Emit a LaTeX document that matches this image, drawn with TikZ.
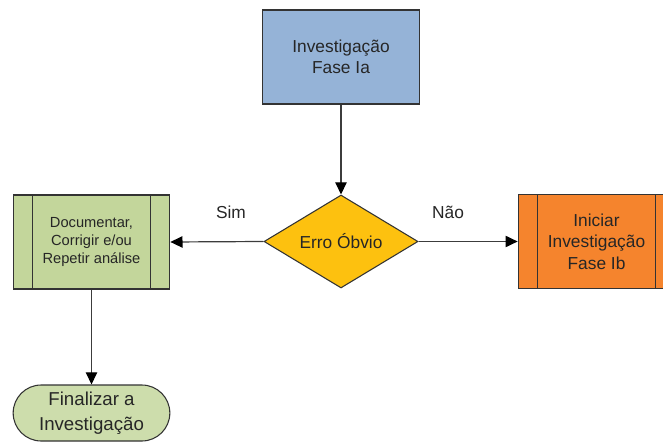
\documentclass[tikz,border=0pt]{standalone}
\usepackage{fontspec}
\setmainfont{Liberation Sans}
\usetikzlibrary{shapes,arrows.meta}
\tikzset{>={Triangle[width=3.0mm,length=3.2mm,color=black]}}

\definecolor{fasea}{HTML}{95B3D7}
\definecolor{docgreen}{HTML}{C3D69B}
\definecolor{endgreen}{HTML}{CDDDAC}
\definecolor{faseb}{HTML}{F5842D}
\definecolor{erro}{HTML}{FDC10F}
\definecolor{lineclr}{HTML}{3C3C3C}

\begin{document}
\begin{tikzpicture}[x=0.75pt,y=-0.75pt]
      \tikzstyle{bnode} = [draw=black!80, line width=0.8pt, rectangle, align=center, inner sep=2pt,
                           minimum width=117.5pt, minimum height=70.5pt, text=black!85]
      \tikzstyle{pnode} = [bnode, path picture={
                             \draw[black!80, line width=0.8pt]
                               ([xshift=14.25pt]path picture bounding box.north west) --
                               ([xshift=14.25pt]path picture bounding box.south west);
                             \draw[black!80, line width=0.8pt]
                               ([xshift=-14.25pt]path picture bounding box.north east) --
                               ([xshift=-14.25pt]path picture bounding box.south east);}]
      \tikzstyle{dnode} = [draw=black!80, line width=0.8pt, diamond, aspect=1.66, inner sep=0pt,
                           minimum width=115.5pt, minimum height=69.75pt, text=black!85]
      \tikzstyle{tnode} = [draw=black!80, line width=0.8pt, rectangle, rounded corners=21pt, align=center,
                           minimum width=117.5pt, minimum height=42pt, text=black!85]
      \tikzstyle{conn} = [draw=lineclr, line width=0.9pt]

      \useasboundingbox (0,0) rectangle (663,445);

      %%%%%%%%%%%%%%%%%%%%%%%%%%%%%%
      %% boxes
      %%%%%%%%%%%%%%%%%%%%%%%%%%%%%%
      \node[bnode, fill=fasea, font=\fontsize{13}{15.5}\selectfont] (fia) at (341,57) {Investigação\\Fase Ia};
      \node[dnode, fill=erro, font=\fontsize{13}{15.5}\selectfont] (erro) at (341,241.5) {Erro Óbvio};
      \node[pnode, fill=docgreen, font=\fontsize{11}{13.5}\selectfont] (doc) at (91.5,242) {Documentar,\\Corrigir e/ou\\Repetir análise};
      \node[pnode, fill=faseb, font=\fontsize{13}{16}\selectfont] (fib) at (596.5,241.5) {Iniciar\\Investigação\\Fase Ib};
      \node[tnode, fill=endgreen, font=\fontsize{14}{18.5}\selectfont] (fim) at (91.5,413) {Finalizar a\\Investigação};

      %%%%%%%%%%%%%%%%%%%%%%%%%%%%%%
      %% labels
      %%%%%%%%%%%%%%%%%%%%%%%%%%%%%%
      \node[font=\fontsize{13}{15}\selectfont, text=black!85] (sim) at (231,212) {Sim};
      \node[font=\fontsize{13}{15}\selectfont, text=black!85] (nao) at (448,212) {Não};

      % edges
      \draw[conn, ->] (fia.south) -- (erro.north);
      \draw[conn, ->] (erro.west) -- (doc.east);
      \draw[conn, ->] (erro.east) -- (fib.west);
      \draw[conn, ->] (doc.south) -- (fim.north);

\end{tikzpicture}
\end{document}
